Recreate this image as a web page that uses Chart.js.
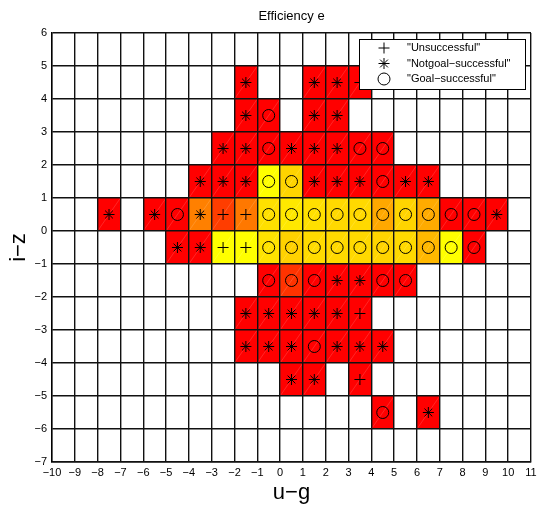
<!DOCTYPE html>
<html>
<head>
<meta charset="utf-8">
<title>Efficiency e</title>
<script src="https://cdn.jsdelivr.net/npm/chart.js@4.4.0/dist/chart.umd.min.js"></script>
<style>
  html, body { margin: 0; padding: 0; background: #fff; }
  #wrap { width: 538px; height: 508px; }
</style>
</head>
<body>
<div id="wrap"><canvas id="effChart"></canvas></div>
<script>
// one entry per filled cell, listed row by row from the top (i-z = 4.5) down
const cellX = [
  -1.5, 1.5, 2.5, 3.5,
  -1.5, -0.5, 1.5, 2.5,
  -2.5, -1.5, -0.5, 0.5, 1.5, 2.5, 3.5, 4.5,
  -3.5, -2.5, -1.5, -0.5, 0.5, 1.5, 2.5, 3.5, 4.5, 5.5, 6.5,
  -7.5, -5.5, -4.5, -3.5, -2.5, -1.5, -0.5, 0.5, 1.5, 2.5, 3.5, 4.5, 5.5, 6.5, 7.5, 8.5, 9.5,
  -4.5, -3.5, -2.5, -1.5, -0.5, 0.5, 1.5, 2.5, 3.5, 4.5, 5.5, 6.5, 7.5, 8.5,
  -0.5, 0.5, 1.5, 2.5, 3.5, 4.5, 5.5,
  -1.5, -0.5, 0.5, 1.5, 2.5, 3.5,
  -1.5, -0.5, 0.5, 1.5, 2.5, 3.5, 4.5,
  0.5, 1.5, 3.5,
  4.5, 6.5
];
const cellY = [
  4.5, 4.5, 4.5, 4.5,
  3.5, 3.5, 3.5, 3.5,
  2.5, 2.5, 2.5, 2.5, 2.5, 2.5, 2.5, 2.5,
  1.5, 1.5, 1.5, 1.5, 1.5, 1.5, 1.5, 1.5, 1.5, 1.5, 1.5,
  0.5, 0.5, 0.5, 0.5, 0.5, 0.5, 0.5, 0.5, 0.5, 0.5, 0.5, 0.5, 0.5, 0.5, 0.5, 0.5, 0.5,
  -0.5, -0.5, -0.5, -0.5, -0.5, -0.5, -0.5, -0.5, -0.5, -0.5, -0.5, -0.5, -0.5, -0.5,
  -1.5, -1.5, -1.5, -1.5, -1.5, -1.5, -1.5,
  -2.5, -2.5, -2.5, -2.5, -2.5, -2.5,
  -3.5, -3.5, -3.5, -3.5, -3.5, -3.5, -3.5,
  -4.5, -4.5, -4.5,
  -5.5, -5.5
];
const cellEff = [
  0, 0, 0, 0,
  0, 0, 0, 0,
  0, 0, 0, 0, 0, 0, 0, 0,
  0, 0, 0, 1, 0.83, 0, 0, 0, 0, 0, 0,
  0, 0, 0, 0.5, 0.24, 0.47, 0.88, 0.91, 0.88, 0.85, 0.85, 0.66, 0.83, 0.67, 0, 0, 0,
  0, 0, 1, 1, 0.89, 0.82, 0.86, 0.85, 0.85, 0.83, 0.85, 0.72, 1, 0,
  0, 0.2, 0, 0, 0, 0, 0,
  0, 0, 0, 0, 0, 0,
  0, 0, 0, 0, 0, 0, 0,
  0, 0, 0,
  0, 0
];
// U = unsuccessful, N = notgoal-successful, G = goal-successful
const cellOutcome = [
  "N", "N", "N", "U",
  "N", "G", "N", "N",
  "N", "N", "G", "N", "N", "N", "G", "G",
  "N", "N", "N", "G", "G", "N", "N", "N", "G", "N", "N",
  "N", "N", "G", "N", "U", "U", "G", "G", "G", "G", "G", "G", "G", "G", "G", "G", "N",
  "N", "N", "U", "U", "G", "G", "G", "G", "G", "G", "G", "G", "G", "G",
  "G", "G", "G", "N", "N", "G", "G",
  "N", "N", "N", "N", "N", "U",
  "N", "N", "N", "G", "N", "N", "N",
  "N", "N", "U",
  "G", "N"
];

const outcomeCodes = ["U", "N", "G"];
const outcomeLabels = ["\"Unsuccessful\"", "\"Notgoal\u2212successful\"", "\"Goal\u2212successful\""];
const outcomeStyles = ["cross", "star", "circle"];
const xTicks = [-10, -9, -8, -7, -6, -5, -4, -3, -2, -1, 0, 1, 2, 3, 4, 5, 6, 7, 8, 9, 10, 11];
const yTicks = [-7, -6, -5, -4, -3, -2, -1, 0, 1, 2, 3, 4, 5, 6];

const FONT = "'Liberation Sans', Arial, Helvetica, sans-serif";
Chart.defaults.font.family = FONT;
Chart.defaults.color = "#000";

// red -> yellow, like the "autumn" colour map
function autumn(e) {
  return `rgb(255, ${Math.round(255 * e)}, 0)`;
}

function minusSign(v) {
  return String(v).replace("-", "\u2212");
}

const cellPlugin = {
  id: "cells",
  beforeDatasetsDraw(chart) {
    const { ctx, scales: { x, y } } = chart;
    ctx.save();
    cellX.forEach((cx, i) => {
      const left = x.getPixelForValue(cx - 0.5);
      const right = x.getPixelForValue(cx + 0.5);
      const top = y.getPixelForValue(cellY[i] + 0.5);
      const bottom = y.getPixelForValue(cellY[i] - 0.5);
      ctx.fillStyle = autumn(cellEff[i]);
      ctx.fillRect(left, top, right - left, bottom - top);
      // thin light seam where the two patch triangles meet
      ctx.strokeStyle = "rgba(255, 255, 255, 0.3)";
      ctx.lineWidth = 0.5;
      ctx.beginPath();
      ctx.moveTo(left, bottom);
      ctx.lineTo(right, top);
      ctx.stroke();
    });
    ctx.restore();
  }
};

const titleLegendPlugin = {
  id: "titleLegend",
  afterDraw(chart) {
    const { ctx, chartArea } = chart;
    ctx.save();
    ctx.fillStyle = "#000";
    ctx.font = `13px ${FONT}`;
    ctx.textAlign = "center";
    ctx.textBaseline = "middle";
    ctx.fillText("Efficiency e", (chartArea.left + chartArea.right) / 2, 16);

    // legend box in the upper right corner
    const boxW = 166, boxH = 50;
    const bx = chartArea.right - boxW - 6;
    const by = chartArea.top + 6;
    ctx.fillStyle = "#fff";
    ctx.fillRect(bx, by, boxW, boxH);
    ctx.strokeStyle = "#000";
    ctx.lineWidth = 1;
    ctx.strokeRect(Math.round(bx) + 0.5, Math.round(by) + 0.5, boxW, boxH);

    ctx.font = `11px ${FONT}`;
    ctx.textAlign = "left";
    chart.data.datasets.forEach((ds, i) => {
      const rowY = by + 9 + i * 15.5;
      ctx.strokeStyle = "#000";
      ctx.fillStyle = "rgba(0,0,0,0)";
      ctx.lineWidth = 1;
      Chart.helpers.drawPoint(ctx, { pointStyle: ds.pointStyle, radius: ds.pointRadius, borderWidth: 1 }, bx + 25, rowY);
      ctx.fillStyle = "#000";
      ctx.fillText(ds.label, bx + 48, rowY);
    });
    ctx.restore();
  }
};

document.addEventListener("DOMContentLoaded", function () {
  const ctx = document.getElementById("effChart").getContext("2d");

  const datasets = outcomeCodes.map((code, k) => {
    const points = [];
    cellX.forEach((cx, i) => {
      if (cellOutcome[i] === code) points.push({ x: cx, y: cellY[i] });
    });
    return {
      label: outcomeLabels[k],
      data: points,
      pointStyle: outcomeStyles[k],
      pointRadius: outcomeStyles[k] === "circle" ? 6 : 5.5,
      pointBorderWidth: 1,
      pointBorderColor: "#000",
      pointBackgroundColor: "rgba(0,0,0,0)",
      showLine: false
    };
  });

  new Chart(ctx, {
    type: "scatter",
    data: { datasets },
    options: {
      responsive: true,
      maintainAspectRatio: false,
      animation: false,
      layout: { padding: { top: 33, right: 7, left: 0, bottom: 0 } },
      plugins: {
        legend: { display: false },
        tooltip: { enabled: false }
      },
      scales: {
        x: {
          type: "linear",
          min: xTicks[0],
          max: xTicks[xTicks.length - 1],
          afterBuildTicks: axis => { axis.ticks = xTicks.map(v => ({ value: v })); },
          afterFit: axis => {
            axis.height = 46;
            // let the last label run to the canvas edge
            axis.paddingLeft = 0;
            axis.paddingRight = 0;
          },
          grid: { z: 1, color: "#111", lineWidth: 1.4, drawTicks: false },
          border: { z: 1, color: "#000", width: 1.4 },
          ticks: {
            padding: 4,
            maxRotation: 0,
            autoSkip: false,
            font: { size: 11 },
            callback: v => minusSign(v)
          },
          title: {
            display: true,
            text: "u\u2212g",
            font: { size: 22 },
            padding: { top: 0, bottom: 2 }
          }
        },
        y: {
          type: "linear",
          min: yTicks[0],
          max: yTicks[yTicks.length - 1],
          afterBuildTicks: axis => { axis.ticks = yTicks.map(v => ({ value: v })); },
          afterFit: axis => { axis.width = 52; },
          grid: { z: 1, color: "#111", lineWidth: 1.4, drawTicks: false },
          border: { z: 1, color: "#000", width: 1.4 },
          ticks: {
            padding: 5,
            autoSkip: false,
            font: { size: 11 },
            callback: v => minusSign(v)
          },
          title: {
            display: true,
            text: "i\u2212z",
            font: { size: 22 },
            padding: { top: 6, bottom: 0 }
          }
        }
      }
    },
    plugins: [cellPlugin, titleLegendPlugin]
  });
});
</script>
</body>
</html>
